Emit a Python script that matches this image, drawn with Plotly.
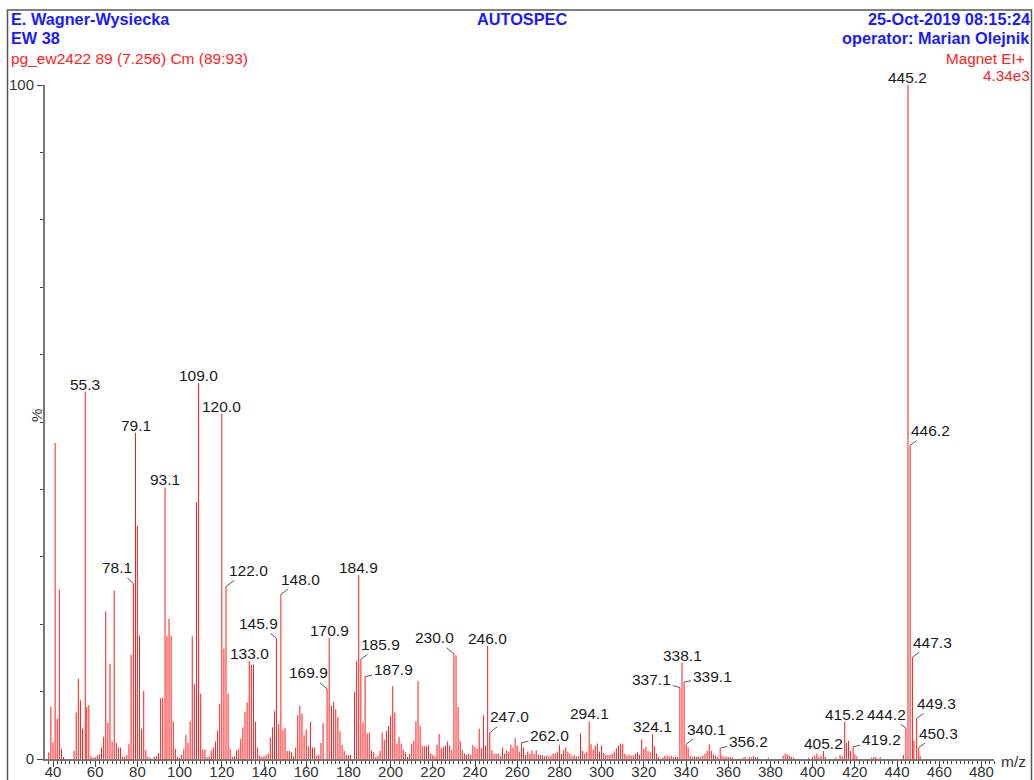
import plotly.graph_objects as go

# ---------------- data ----------------
mz = [38, 39, 40, 41, 42, 43, 44, 45, 50, 51, 52, 53, 54, 55.3, 56, 57, 58, 59, 60, 61, 62, 63, 64, 65, 66, 67, 68, 69,
      70, 71, 72, 73, 74, 75, 76, 77, 78.1, 79.1, 80, 81, 82, 83, 84, 85, 86, 88, 89, 90, 91, 92, 93.1, 94, 95, 96, 97,
      98, 99, 100, 101, 102, 103, 104, 105, 106, 107, 108, 109.0, 110, 111, 112, 113, 114, 115, 116, 117, 118, 119,
      120.0, 121, 122.0, 123, 124, 125, 126, 127, 128, 129, 130, 131, 132, 133.0, 134, 135, 136, 137, 138, 139, 140,
      141, 142, 143, 144, 145, 145.9, 147, 148.0, 149, 150, 151, 152, 153, 154, 155, 156, 157, 158, 159, 160, 161,
      162, 163, 164, 165, 166, 167, 168, 169.9, 170.9, 172, 173, 174, 175, 176, 177, 178, 179, 180, 181, 182.9, 183.9,
      184.9, 185.9, 186.9, 187.9, 188.9, 189.9, 191, 192, 193, 194, 195, 196, 197, 198, 199, 200, 201, 202, 203, 204,
      205, 206, 207, 208, 209, 210, 211, 212, 213, 214, 215, 216, 217, 218, 219, 220, 221, 222, 223, 224, 225, 226,
      227, 228, 229, 230.0, 231, 232, 233, 234, 235, 236, 237, 238, 239, 240, 241, 242, 243, 244, 245, 246.0, 247.0,
      248, 249, 250, 251, 252, 253, 254, 255, 256, 257, 258, 259, 260, 261, 262.0, 263, 264, 265, 266, 267, 268, 269,
      270, 271, 272, 273, 274, 275, 276, 277, 278, 279, 280, 281, 282, 283, 284, 285, 286, 287, 288, 289, 290, 291,
      292, 293, 294.1, 295, 296, 297, 298, 299, 300, 301, 302, 303, 304, 305, 306, 307, 308, 309, 310, 311, 312, 313,
      314, 315, 316, 317, 318, 319, 320, 321, 322, 323, 324.1, 325, 326, 327, 329, 330, 331, 332, 333, 334, 335, 336,
      337.1, 338.1, 339.1, 340.1, 341, 342, 343, 344, 345, 346, 347, 348, 349, 350, 351, 352, 353, 354, 355, 356.2,
      357, 358, 359, 360, 361, 362, 367, 368, 370, 371, 372, 373, 374, 379, 386, 387, 388, 389, 390, 391, 398, 400,
      401, 402, 403, 404, 405.2, 406, 411, 413, 414, 415.2, 416, 417, 418, 419.2, 420, 421, 428, 429, 430, 432, 443,
      444.2, 445.2, 446.2, 447.3, 448, 449.3, 450.3, 451]

intensity = [1.0, 7.7, 2.5, 46.9, 6.0, 25.1, 1.5, 0.3, 1.2, 6.9, 11.9, 8.7, 4.5, 54.5, 7.7, 8.0, 0.4, 0.2, 0.3, 0.5,
             0.7, 1.7, 3.3, 21.9, 5.4, 14.1, 2.6, 25.0, 2.4, 1.7, 1.7, 0.3, 0.3, 0.6, 2.2, 15.5, 26.0, 48.4, 34.6, 18.3,
             4.5, 10.1, 1.3, 0.3, 0.2, 0.3, 0.4, 0.9, 9.0, 9.1, 40.3, 18.2, 20.8, 18.3, 5.6, 1.5, 0.3, 0.2, 0.6, 1.5,
             3.6, 2.4, 5.6, 18.2, 11.1, 38.1, 55.8, 9.7, 1.4, 1.4, 0.3, 0.4, 1.3, 1.7, 2.6, 4.2, 8.2, 51.2, 16.4, 25.6,
             9.7, 1.5, 0.3, 0.4, 1.3, 1.5, 3.0, 4.7, 7.0, 8.4, 14.5, 14.0, 14.0, 5.5, 1.7, 0.5, 0.3, 0.4, 0.6, 0.8,
             3.2, 4.7, 7.1, 17.9, 5.2, 24.4, 4.3, 4.6, 1.2, 1.2, 1.0, 0.4, 1.7, 6.5, 7.9, 6.7, 3.5, 4.4, 1.9, 5.5, 1.7,
             1.7, 0.5, 0.6, 2.4, 5.3, 10.4, 18.0, 7.9, 8.5, 7.4, 6.2, 4.1, 2.1, 1.2, 0.6, 0.5, 0.6, 9.9, 14.5, 27.3,
             14.8, 5.4, 12.2, 3.8, 3.9, 1.3, 1.0, 0.3, 0.5, 1.2, 3.9, 2.9, 4.2, 4.9, 6.4, 10.8, 6.9, 2.3, 3.3, 2.3, 1.4,
             1.0, 0.3, 0.8, 2.2, 2.7, 5.6, 11.6, 4.9, 2.0, 1.9, 1.9, 2.1, 0.8, 0.6, 0.4, 2.1, 3.7, 1.6, 1.8, 2.0, 2.6,
             2.0, 1.3, 15.6, 15.4, 7.7, 2.7, 1.3, 0.8, 0.6, 0.8, 0.6, 2.1, 1.8, 1.5, 4.5, 1.6, 6.5, 2.0, 16.8, 3.9, 1.3,
             0.8, 0.8, 0.8, 0.4, 1.7, 0.8, 1.3, 1.1, 2.1, 1.7, 3.1, 2.0, 1.1, 2.4, 1.7, 0.6, 1.1, 0.8, 1.3, 0.8, 1.3,
             0.6, 0.6, 0.5, 0.4, 0.5, 0.4, 0.5, 0.8, 0.8, 1.1, 2.1, 0.8, 1.3, 1.7, 1.1, 0.8, 0.4, 0.6, 0.4, 0.4, 3.8,
             1.2, 0.8, 1.1, 5.6, 2.2, 1.4, 2.0, 2.3, 1.1, 2.0, 0.9, 0.6, 0.6, 0.6, 0.8, 1.1, 1.6, 2.0, 2.3, 2.2, 0.8,
             0.5, 0.6, 0.5, 0.5, 0.8, 1.0, 0.6, 2.9, 1.5, 1.8, 1.2, 1.0, 3.7, 1.9, 0.8, 0.3, 0.2, 0.5, 0.5, 0.4, 0.5,
             0.3, 0.4, 0.3, 10.6, 14.3, 11.4, 2.2, 1.7, 0.5, 0.3, 0.4, 0.3, 0.4, 0.3, 0.5, 0.8, 1.2, 2.2, 1.2, 0.7, 0.5,
             0.3, 1.6, 0.5, 0.3, 0.4, 0.3, 0.3, 0.2, 0.2, 0.3, 0.3, 0.2, 0.4, 0.3, 0.3, 0.2, 0.5, 0.8, 0.7, 0.5, 0.3,
             0.2, 0.2, 0.3, 0.5, 0.8, 0.3, 0.5, 1.2, 0.3, 0.2, 0.6, 0.4, 5.5, 2.4, 2.7, 1.2, 1.8, 0.7, 0.4, 0.2, 0.3,
             0.3, 0.3, 0.6, 4.6, 100.0, 46.5, 15.1, 2.7, 6.0, 1.7, 0.4]

# labelled peaks
label_mz = [55.3, 78.1, 79.1, 93.1, 109.0, 120.0, 122.0, 133.0, 145.9, 148.0, 169.9, 170.9, 184.9, 185.9, 187.9,
            230.0, 246.0, 247.0, 262.0, 294.1, 324.1, 337.1, 338.1, 339.1, 340.1, 356.2, 405.2, 415.2, 419.2,
            444.2, 445.2, 446.2, 447.3, 449.3, 450.3]
label_text = ["55.3", "78.1", "79.1", "93.1", "109.0", "120.0", "122.0", "133.0", "145.9", "148.0", "169.9",
              "170.9", "184.9", "185.9", "187.9", "230.0", "246.0", "247.0", "262.0", "294.1", "324.1", "337.1",
              "338.1", "339.1", "340.1", "356.2", "405.2", "415.2", "419.2", "444.2", "445.2", "446.2", "447.3",
              "449.3", "450.3"]

x_ticks = [40, 60, 80, 100, 120, 140, 160, 180, 200, 220, 240, 260, 280, 300, 320, 340, 360, 380, 400, 420, 440,
           460, 480]
y_ticks = [0, 100]

# ---------------- styling / layout (not data) ----------------
FONT = "Liberation Sans, Arial, sans-serif"
BLUE = "#1a1aff"
RED = "#ff2020"
W, H = 1034, 780
ML, MR, MT, MB = 45, 40, 85, 21
PW = W - ML - MR
PH = H - MT - MB
X_RANGE = [36.21, 485.96]

# leader-line offsets (pixels) for labels that are not centred over their peak
LEADER = {
    "78.1": (-16, -16), "122.0": (22, -16), "145.9": (-18, -15), "148.0": (20, -15.5), "169.9": (-19, -16),
    "185.9": (20, -15), "187.9": (28, -7), "230.0": (-19, -16), "247.0": (20, -16), "262.0": (28, -7),
    "337.1": (-28, -8), "339.1": (28, -6), "340.1": (20, -15), "356.2": (28, -7), "419.2": (28, -7),
    "444.2": (-19, -13.5), "446.2": (20, -15), "447.3": (20, -15), "449.3": (20, -15), "450.3": (20, -14.5),
}


def px2paper(px, py):
    return (px - ML) / PW, (H - MB - py) / PH


# stick spectrum built from the data arrays
xs, ys = [], []
for m, v in zip(mz, intensity):
    xs += [m, m, None]
    ys += [0, v, None]

fig = go.Figure()
fig.add_trace(go.Scatter(x=xs, y=ys, mode="lines", line=dict(color="#ff1a1a", width=1),
                         hoverinfo="skip", showlegend=False))

lookup = dict(zip(mz, intensity))
annotations = []
for m, t in zip(label_mz, label_text):
    v = lookup[m]
    if t in LEADER:
        ax, ay = LEADER[t]
        annotations.append(dict(x=m, y=v, xref="x", yref="y", text=t, showarrow=True, arrowhead=0,
                                arrowwidth=1, arrowcolor="#555555", ax=ax, ay=ay, standoff=0,
                                font=dict(family=FONT, size=15.5, color="#1a1a1a")))
    else:
        annotations.append(dict(x=m, y=v, xref="x", yref="y", text=t, showarrow=False,
                                yanchor="bottom", xanchor="center", yshift=-3,
                                font=dict(family=FONT, size=15.5, color="#1a1a1a")))


def header(text, px, py, anchor, color, size, bold=False):
    x, y = px2paper(px, py)
    annotations.append(dict(x=x, y=y, xref="paper", yref="paper", text=f"<b>{text}</b>" if bold else text,
                            showarrow=False, xanchor=anchor, yanchor="middle",
                            font=dict(family=FONT, size=size, color=color)))


header("E. Wagner-Wysiecka", 8.5, 19.5, "left", BLUE, 16.3, True)
header("EW 38", 8.5, 38, "left", BLUE, 16.3, True)
header("pg_ew2422 89 (7.256) Cm (89:93)", 8.5, 59, "left", RED, 15.5)
header("AUTOSPEC", 521.5, 19.5, "center", BLUE, 16.3, True)
header("25-Oct-2019 08:15:24", 1032, 19.5, "right", BLUE, 16.3, True)
header("operator: Marian Olejnik", 1032, 38, "right", BLUE, 16.3, True)
header("Magnet EI+", 1027, 59, "right", RED, 15.3)
header("4.34e3", 1032, 76, "right", RED, 15.3)
header("m/z", 998.5, 761, "left", "#333333", 15.5)

xp, yp = px2paper(36, 416)
annotations.append(dict(x=xp, y=yp, xref="paper", yref="paper", text="%", showarrow=False, textangle=-90,
                        xanchor="center", yanchor="middle", font=dict(family=FONT, size=15, color="#333333")))

# outer frame
fx0, fy0 = px2paper(7.5, 830)
fx1, fy1 = px2paper(1031.5, 10)
shapes = [dict(type="rect", xref="paper", yref="paper", x0=fx0, y0=fy0, x1=fx1, y1=fy1,
               line=dict(color="#555555", width=1.5), fillcolor="rgba(0,0,0,0)", layer="above")]

fig.update_layout(
    width=W, height=H, margin=dict(l=ML, r=MR, t=MT, b=MB, pad=0, autoexpand=False),
    paper_bgcolor="white", plot_bgcolor="white", showlegend=False,
    annotations=annotations, shapes=shapes,
    font=dict(family=FONT, size=15, color="#333333"),
    xaxis=dict(range=X_RANGE, automargin=False, showgrid=False, zeroline=False, showline=True,
               linecolor="#777777", linewidth=2,
               ticks="outside", ticklen=6, tickwidth=1, tickcolor="#444444", tickmode="array",
               tickvals=x_ticks, ticktext=[str(v) for v in x_ticks], ticklabelstandoff=-8,
               tickfont=dict(family=FONT, size=15, color="#333333"),
               minor=dict(ticks="outside", dtick=2, tick0=0, ticklen=3, tickwidth=1, tickcolor="#444444",
                          showgrid=False)),
    yaxis=dict(range=[0, 100], automargin=False, showgrid=False, zeroline=False, showline=True,
               linecolor="#777777", linewidth=2,
               ticks="outside", ticklen=6, tickwidth=1, tickcolor="#444444", tickmode="array",
               tickvals=y_ticks, ticktext=[str(v) for v in y_ticks],
               tickfont=dict(family=FONT, size=15, color="#333333"),
               minor=dict(ticks="outside", dtick=10, tick0=0, ticklen=3, tickwidth=1, tickcolor="#444444",
                          showgrid=False)),
)

fig.write_html("out.html", config={"displayModeBar": False},
               post_script="document.body.style.margin='0px';document.body.style.overflow='hidden';")
